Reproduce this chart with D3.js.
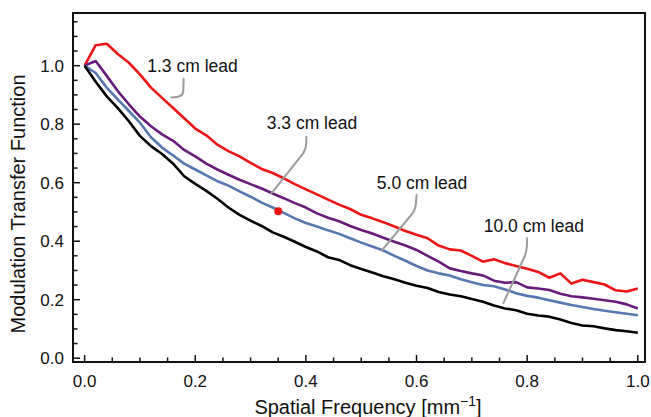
<!DOCTYPE html>
<html>
<head>
<meta charset="utf-8">
<script src="https://cdn.jsdelivr.net/npm/d3@7"></script>
<style>
  body { margin: 0; background: #fff; }
  text { font-family: "Liberation Sans", Arial, Helvetica, sans-serif; fill: #111; }
</style>
</head>
<body>
<div id="chart"></div>
<script>
// spatial frequency [mm^-1]
var freq = [0.00, 0.02, 0.04, 0.06, 0.08, 0.10, 0.12, 0.14, 0.16, 0.18,
  0.20, 0.22, 0.24, 0.26, 0.28, 0.30, 0.32, 0.34, 0.36, 0.38,
  0.40, 0.42, 0.44, 0.46, 0.48, 0.50, 0.52, 0.54, 0.56, 0.58,
  0.60, 0.62, 0.64, 0.66, 0.68, 0.70, 0.72, 0.74, 0.76, 0.78,
  0.80, 0.82, 0.84, 0.86, 0.88, 0.90, 0.92, 0.94, 0.96, 0.98, 1.00];

var lead13 = [1.000, 1.070, 1.075, 1.040, 1.010, 0.970, 0.925, 0.890, 0.855, 0.820,
  0.785, 0.762, 0.730, 0.708, 0.690, 0.668, 0.647, 0.633, 0.615, 0.595,
  0.577, 0.560, 0.542, 0.525, 0.510, 0.490, 0.478, 0.465, 0.450, 0.435,
  0.422, 0.410, 0.385, 0.372, 0.368, 0.350, 0.330, 0.338, 0.325, 0.315,
  0.306, 0.295, 0.275, 0.290, 0.255, 0.268, 0.260, 0.252, 0.232, 0.228, 0.238];

var lead33 = [1.000, 1.016, 0.965, 0.913, 0.868, 0.826, 0.793, 0.765, 0.743, 0.712,
  0.690, 0.665, 0.645, 0.627, 0.610, 0.595, 0.580, 0.563, 0.547, 0.530,
  0.515, 0.495, 0.480, 0.468, 0.452, 0.438, 0.426, 0.412, 0.398, 0.385,
  0.370, 0.350, 0.330, 0.307, 0.298, 0.290, 0.283, 0.265, 0.258, 0.260,
  0.242, 0.238, 0.233, 0.220, 0.212, 0.208, 0.203, 0.198, 0.193, 0.184, 0.170];

var lead50 = [1.000, 0.975, 0.925, 0.885, 0.845, 0.805, 0.755, 0.720, 0.693, 0.665,
  0.645, 0.625, 0.605, 0.590, 0.570, 0.552, 0.532, 0.515, 0.497, 0.478,
  0.462, 0.450, 0.437, 0.425, 0.410, 0.395, 0.382, 0.368, 0.350, 0.333,
  0.315, 0.300, 0.290, 0.283, 0.270, 0.260, 0.250, 0.246, 0.235, 0.222,
  0.213, 0.207, 0.198, 0.190, 0.182, 0.175, 0.168, 0.162, 0.157, 0.152, 0.147];

var lead100 = [1.000, 0.945, 0.895, 0.855, 0.810, 0.760, 0.725, 0.698, 0.665, 0.622,
  0.596, 0.572, 0.545, 0.515, 0.490, 0.470, 0.452, 0.430, 0.415, 0.398,
  0.380, 0.365, 0.345, 0.336, 0.318, 0.305, 0.293, 0.280, 0.270, 0.258,
  0.248, 0.240, 0.226, 0.218, 0.212, 0.202, 0.193, 0.180, 0.170, 0.164,
  0.152, 0.146, 0.142, 0.132, 0.120, 0.112, 0.109, 0.102, 0.096, 0.092, 0.087];

var seriesNames = ["1.3 cm lead", "3.3 cm lead", "5.0 cm lead", "10.0 cm lead"];
var seriesValues = [lead13, lead33, lead50, lead100];
var seriesColors = ["#ee1414", "#6a1a7c", "#5577b2", "#000000"];

// marked point
var markPoint = [[0.350, 0.502]];

var xTicks = [0, 0.2, 0.4, 0.6, 0.8, 1.0];
var yTicks = [0, 0.2, 0.4, 0.6, 0.8, 1.0];

// label placement (data units): text anchor + leader top, corner, end
var labels = [
  { text: seriesNames[0], at: [0.195, 0.980], lead: [[0.179, 0.955], [0.178, 0.895], [0.157, 0.891]] },
  { text: seriesNames[1], at: [0.411, 0.782], lead: [[0.401, 0.757], [0.400, 0.712], [0.338, 0.564]] },
  { text: seriesNames[2], at: [0.610, 0.580], lead: [[0.600, 0.558], [0.598, 0.507], [0.537, 0.368]] },
  { text: seriesNames[3], at: [0.812, 0.430], lead: [[0.800, 0.410], [0.799, 0.363], [0.757, 0.188]] }
];

var W = 651, H = 417;
var frame = { left: 73, right: 645, top: 13, bottom: 362 };

var svg = d3.select("#chart").append("svg")
  .attr("width", W)
  .attr("height", H);

var x = d3.scaleLinear().domain([-0.021, 1.013]).range([frame.left, frame.right]);
var y = d3.scaleLinear().domain([-0.013, 1.18]).range([frame.bottom, frame.top]);

// ticks (inward, on left and bottom only)
var xMinor = d3.range(0, 1.0001, 0.05);
var yMinor = d3.range(0, 1.1501, 0.05);

svg.append("g").selectAll("line")
  .data(xMinor)
  .enter().append("line")
  .attr("x1", function (d) { return x(d); })
  .attr("x2", function (d) { return x(d); })
  .attr("y1", frame.bottom)
  .attr("y2", function (d, i) { return frame.bottom - (i % 4 === 0 ? 7 : 4.5); })
  .attr("stroke", "#111")
  .attr("stroke-width", 1.5);

svg.append("g").selectAll("line")
  .data(yMinor)
  .enter().append("line")
  .attr("y1", function (d) { return y(d); })
  .attr("y2", function (d) { return y(d); })
  .attr("x1", frame.left)
  .attr("x2", function (d, i) { return frame.left + (i % 4 === 0 ? 7 : 4.5); })
  .attr("stroke", "#111")
  .attr("stroke-width", 1.5);

svg.append("g").selectAll("text")
  .data(xTicks)
  .enter().append("text")
  .attr("x", function (d) { return x(d); })
  .attr("y", 387)
  .attr("text-anchor", "middle")
  .style("font-size", "17px")
  .text(function (d) { return d.toFixed(1); });

svg.append("g").selectAll("text")
  .data(yTicks)
  .enter().append("text")
  .attr("x", 64)
  .attr("y", function (d) { return y(d) + 6; })
  .attr("text-anchor", "end")
  .style("font-size", "17px")
  .text(function (d) { return d.toFixed(1); });

// axis titles
var xt = svg.append("text")
  .attr("x", 368)
  .attr("y", 414)
  .attr("text-anchor", "middle")
  .style("font-size", "20px");
xt.append("tspan").text("Spatial Frequency [mm");
xt.append("tspan").attr("dy", -8).style("font-size", "14px").text("\u22121");
xt.append("tspan").attr("dy", 8).text("]");

svg.append("text")
  .attr("transform", "translate(25,204) rotate(-90)")
  .attr("text-anchor", "middle")
  .style("font-size", "20px")
  .text("Modulation Transfer Function");

// curves
var line = d3.line()
  .x(function (d) { return x(d[0]); })
  .y(function (d) { return y(d[1]); });

seriesValues.forEach(function (vals, i) {
  svg.append("path")
    .datum(freq.map(function (f, j) { return [f, vals[j]]; }))
    .attr("d", line)
    .attr("fill", "none")
    .attr("stroke", seriesColors[i])
    .attr("stroke-width", 2.6)
    .attr("stroke-linejoin", "round");
});

// leaders + labels
function leaderPath(pts) {
  var a = [x(pts[0][0]), y(pts[0][1])],
    c = [x(pts[1][0]), y(pts[1][1])],
    b = [x(pts[2][0]), y(pts[2][1])],
    r = 6;
  function toward(p, q, dist) {
    var dx = q[0] - p[0], dy = q[1] - p[1], len = Math.sqrt(dx * dx + dy * dy);
    return [p[0] + dx / len * dist, p[1] + dy / len * dist];
  }
  var p1 = toward(c, a, r), p2 = toward(c, b, r);
  var p = d3.path();
  p.moveTo(a[0], a[1]);
  p.lineTo(p1[0], p1[1]);
  p.quadraticCurveTo(c[0], c[1], p2[0], p2[1]);
  p.lineTo(b[0], b[1]);
  return p.toString();
}

labels.forEach(function (l) {
  svg.append("path")
    .attr("d", leaderPath(l.lead))
    .attr("fill", "none")
    .attr("stroke", "#9c9c9c")
    .attr("stroke-width", 2)
    .attr("stroke-linecap", "round");
  svg.append("text")
    .attr("x", x(l.at[0]))
    .attr("y", y(l.at[1]))
    .attr("text-anchor", "middle")
    .style("font-size", "17.5px")
    .text(l.text);
});

svg.selectAll(".mark")
  .data(markPoint)
  .enter().append("circle")
  .attr("class", "mark")
  .attr("cx", function (d) { return x(d[0]); })
  .attr("cy", function (d) { return y(d[1]); })
  .attr("r", 4)
  .attr("fill", "#ee1414");

// frame
svg.append("rect")
  .attr("x", frame.left)
  .attr("y", frame.top)
  .attr("width", frame.right - frame.left)
  .attr("height", frame.bottom - frame.top)
  .attr("fill", "none")
  .attr("stroke", "#111")
  .attr("stroke-width", 2);
</script>
</body>
</html>
